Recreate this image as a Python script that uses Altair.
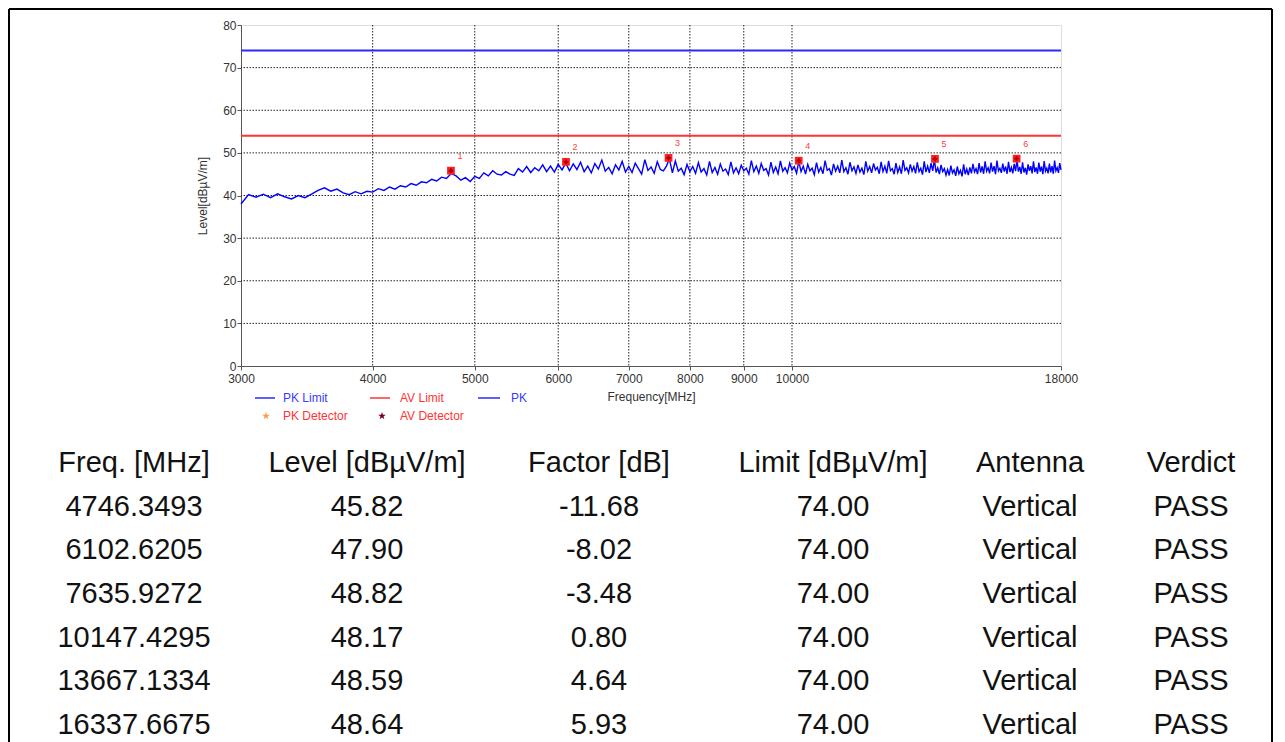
import altair as alt
import pandas as pd
import numpy as np

# ---------------- data ----------------
f_start, f_stop = 3000, 18000
pk_trace = [
    38.0, 40.2, 39.6, 40.3, 39.5, 40.4, 39.7, 39.2, 40.0, 39.5, 40.3, 41.2, 41.8, 41.0, 41.5, 40.6, 40.2, 40.9, 40.4, 41.0, 40.8,
    41.6, 41.2, 42.0, 41.5, 42.3, 42.0, 42.8, 42.4, 43.2, 43.0, 43.8, 43.4, 44.3, 44.0, 45.2, 44.6, 43.6, 44.2, 43.3, 44.5,
    44.0, 45.3, 44.6, 45.8, 45.0, 44.8, 45.6, 45.0, 44.7, 46.3, 45.5, 46.8, 45.4, 46.5, 45.8, 47.2, 45.6, 46.9, 45.5, 47.3,
    46.0, 47.6, 45.8, 47.4, 46.1, 47.8, 45.6, 46.9, 45.3, 47.5, 46.2, 48.3, 45.7, 46.6, 45.1, 47.2, 46.0, 48.0, 45.5, 46.8,
    45.4, 47.6, 46.3, 45.0, 48.4, 45.9, 46.7, 45.2, 47.9, 46.1, 45.8, 46.9, 48.6, 45.3, 48.1, 45.7, 46.4, 44.9, 47.3, 45.6,
    46.8, 45.2, 47.7, 45.5, 46.3, 44.8, 48.0, 45.4, 46.6, 45.0, 47.4, 45.7, 46.2, 44.9, 47.9, 45.3, 46.5, 45.1, 47.1, 45.8,
    46.4, 45.0, 48.2, 45.6, 46.9, 45.2, 47.5, 45.9, 46.3, 44.8, 47.8, 45.4, 46.7, 45.1, 48.1, 45.7, 46.5, 45.3, 47.6, 46.0,
    46.8, 45.2, 48.0, 45.6, 46.9, 45.0, 47.3, 45.8, 46.4, 44.9, 47.7, 45.5, 46.6, 45.1, 48.2, 45.9, 46.3, 44.8, 47.4, 45.7,
    46.9, 45.3, 48.3, 45.6, 46.5, 45.0, 47.8, 45.8, 46.7, 45.2, 47.2, 45.5, 46.4, 44.9, 48.0, 45.7, 46.8, 45.3, 47.5, 46.0,
    46.6, 45.1, 47.9, 45.6, 46.9, 45.2, 48.1, 45.8, 46.3, 45.0, 47.6, 45.4, 46.7, 45.1, 48.3, 45.9, 46.5, 45.3, 47.3, 45.7,
    46.8, 45.2, 47.8, 45.6, 46.4, 44.9, 48.0, 45.5, 46.9, 45.3, 47.6, 45.8, 48.4, 45.4, 46.5, 45.0, 47.2, 45.6, 46.3, 44.8,
    46.1, 44.7, 47.0, 45.3, 46.0, 44.6, 46.8, 45.1, 45.9, 44.5, 47.3, 45.0, 46.2, 44.8, 46.6, 45.2, 47.4, 45.5, 46.3, 45.0,
    47.6, 45.4, 46.8, 45.1, 48.0, 45.7, 46.5, 45.2, 47.7, 45.6, 46.9, 45.0, 48.2, 45.8, 46.4, 45.3, 47.5, 45.6, 46.8, 45.1,
    47.9, 45.5, 46.6, 45.2, 47.4, 45.7, 48.4, 45.6, 46.7, 45.1, 47.8, 45.4, 46.5, 44.9, 47.3, 45.8, 46.9, 45.2, 48.0, 45.5,
    46.6, 45.1, 47.7, 45.6, 46.8, 45.0, 48.1, 45.7, 46.4, 45.2, 47.5, 45.4, 46.9, 45.1, 48.2, 45.8, 46.5, 45.3, 47.6, 46.0,
]
pk_limit = [74.0]
av_limit = [54.0]

mk_freq = [4746.3493, 6102.6205, 7635.9272, 10147.4295, 13667.1334, 16337.6675]
mk_level = [45.82, 47.90, 48.82, 48.17, 48.59, 48.64]
mk_factor = [-11.68, -8.02, -3.48, 0.80, 4.64, 5.93]
mk_limit = [74.00, 74.00, 74.00, 74.00, 74.00, 74.00]
mk_antenna = ["Vertical", "Vertical", "Vertical", "Vertical", "Vertical", "Vertical"]
mk_verdict = ["PASS", "PASS", "PASS", "PASS", "PASS", "PASS"]

x_ticks = [3000, 4000, 5000, 6000, 7000, 8000, 9000, 10000, 18000]
x_grid = [4000, 5000, 6000, 7000, 8000, 9000, 10000]
y_ticks = [0, 10, 20, 30, 40, 50, 60, 70, 80]
y_grid = [10, 20, 30, 40, 50, 60, 70]

headers = ["Freq. [MHz]", "Level [dBµV/m]", "Factor [dB]", "Limit [dBµV/m]", "Antenna", "Verdict"]

# ---------------- frames ----------------
W, H = 820, 341
FONT = "Liberation Sans"

trace_df = pd.DataFrame({"freq": np.linspace(f_start, f_stop, len(pk_trace)), "level": pk_trace})
mk_df = pd.DataFrame({"freq": mk_freq, "level": mk_level,
                      "num": [str(i + 1) for i in range(len(mk_freq))]})
gx_df = pd.DataFrame({"freq": x_grid})
gy_df = pd.DataFrame({"level": y_grid})
pk_df = pd.DataFrame({"level": pk_limit})
av_df = pd.DataFrame({"level": av_limit})
dummy = pd.DataFrame({"d": [0]})

xs = alt.Scale(type="log", domain=[f_start, f_stop], nice=False)
ys = alt.Scale(domain=[0, 80], nice=False)

X = alt.X("freq:Q", scale=xs, title="Frequency[MHz]",
          axis=alt.Axis(values=x_ticks, format="d", grid=False, labelFlush=False,
                        tickSize=4, labelPadding=3, titlePadding=7,
                        labelFontSize=12, titleFontSize=12, titleFontWeight="normal",
                        labelColor="#333", titleColor="#333", labelFont=FONT, titleFont=FONT,
                        domainColor="#555", tickColor="#555"))
Y = alt.Y("level:Q", scale=ys, title="Level[dBµV/m]",
          axis=alt.Axis(values=y_ticks, grid=False, tickSize=4, labelPadding=1, titlePadding=13,
                        labelFontSize=12, titleFontSize=12, titleFontWeight="normal",
                        labelColor="#333", titleColor="#333", labelFont=FONT, titleFont=FONT,
                        domainColor="#555", tickColor="#555"))

grid_x = alt.Chart(gx_df).mark_rule(color="#222", strokeDash=[1.5, 1.5], strokeWidth=1).encode(
    x=alt.X("freq:Q", scale=xs))
grid_y = alt.Chart(gy_df).mark_rule(color="#222", strokeDash=[1.5, 1.5], strokeWidth=1).encode(
    y=alt.Y("level:Q", scale=ys))

trace = alt.Chart(trace_df).mark_line(color="#0000ff", strokeWidth=1.4).encode(x=X, y=Y)

pk_rule = alt.Chart(pk_df).mark_rule(color="#2a2aff", strokeWidth=2).encode(y=alt.Y("level:Q", scale=ys))
av_rule = alt.Chart(av_df).mark_rule(color="#ff3333", strokeWidth=2).encode(y=alt.Y("level:Q", scale=ys))

markers = alt.Chart(mk_df).mark_point(shape="square", filled=True, size=60, color="#ff2020",
                                      opacity=1).encode(x=alt.X("freq:Q", scale=xs), y=alt.Y("level:Q", scale=ys))
markers2 = alt.Chart(mk_df).mark_point(shape="cross", filled=True, size=22, color="#b00000",
                                       opacity=1).encode(x=alt.X("freq:Q", scale=xs), y=alt.Y("level:Q", scale=ys))
mk_labels = alt.Chart(mk_df).mark_text(dx=9, dy=-15, fontSize=9, color="#ff4040", font=FONT).encode(
    x=alt.X("freq:Q", scale=xs), y=alt.Y("level:Q", scale=ys), text="num:N")

STAR = "M0,-1L0.24,-0.33L0.95,-0.31L0.38,0.12L0.59,0.81L0,0.4L-0.59,0.81L-0.38,0.12L-0.95,-0.31L-0.24,-0.33Z"


def leg_line(x1, x2, y, color):
    return alt.Chart(dummy).mark_rule(color=color, strokeWidth=1.5).encode(
        x=alt.value(x1), x2=alt.value(x2), y=alt.value(y))


def leg_text(x, y, txt, color):
    return alt.Chart(dummy).mark_text(text=txt, align="left", baseline="middle", fontSize=12,
                                      font=FONT, color=color).encode(x=alt.value(x), y=alt.value(y))


def leg_star(x, y, color):
    return alt.Chart(dummy).mark_point(shape=STAR, filled=True, size=65, color=color, opacity=1).encode(
        x=alt.value(x), y=alt.value(y))


legend_layers = [
    leg_line(14, 34, 373, "#2a2aff"), leg_text(42, 373, "PK Limit", "#3a3aff"),
    leg_line(129, 149, 373, "#ff3333"), leg_text(159, 373, "AV Limit", "#ff3333"),
    leg_line(237, 259, 373, "#2a2aff"), leg_text(270, 373, "PK", "#3a3aff"),
    leg_star(25, 391, "#ff9a50"), leg_text(42, 391, "PK Detector", "#ff3333"),
    leg_star(141, 391, "#7a0020"), leg_text(159, 391, "AV Detector", "#ff3333"),
]

# outer border
border = [
    alt.Chart(dummy).mark_rule(color="black", strokeWidth=2).encode(
        x=alt.value(-232), x2=alt.value(1031), y=alt.value(-16)),
    alt.Chart(dummy).mark_rule(color="black", strokeWidth=2).encode(
        x=alt.value(-232), y=alt.value(-16), y2=alt.value(740)),
    alt.Chart(dummy).mark_rule(color="black", strokeWidth=2).encode(
        x=alt.value(1031), y=alt.value(-16), y2=alt.value(740)),
]

plot = alt.layer(grid_x, grid_y, pk_rule, av_rule, trace, markers, markers2, mk_labels,
                 *legend_layers, *border)

# ---------------- table ----------------
rows = [{"row": 0, "c0": headers[0], "c1": headers[1], "c2": headers[2],
         "c3": headers[3], "c4": headers[4], "c5": headers[5]}]
for i in range(len(mk_freq)):
    rows.append({"row": i + 1, "c0": f"{mk_freq[i]:.4f}", "c1": f"{mk_level[i]:.2f}",
                 "c2": f"{mk_factor[i]:.2f}", "c3": f"{mk_limit[i]:.2f}",
                 "c4": mk_antenna[i], "c5": mk_verdict[i]})
table_df = pd.DataFrame(rows)

col_x = [-107, 126, 358, 592, 789, 950]
row_scale = alt.Scale(domain=[0, 6], range=[438, 700], nice=False, zero=False)
table_layers = [
    alt.Chart(table_df).mark_text(fontSize=29, font=FONT, color="#111", baseline="middle").encode(
        x=alt.value(cx), y=alt.Y("row:Q", scale=row_scale, axis=None), text=f"c{j}:N")
    for j, cx in enumerate(col_x)
]
table = alt.layer(*table_layers)

chart = alt.layer(plot, table).resolve_scale(y="independent").properties(
    width=W, height=H,
    padding={"left": 233, "top": 17, "right": 212, "bottom": 376},
    autosize=alt.AutoSizeParams(type="none"),
).configure_view(stroke="#777", strokeWidth=1).configure(background="white")

chart.save("out.html", embed_options={"renderer": "svg", "actions": False})
